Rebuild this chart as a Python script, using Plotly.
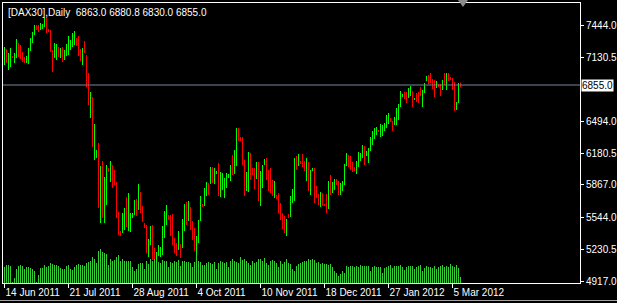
import plotly.graph_objects as go

# ---- data (DAX30 daily, 14 Jun 2011 .. Mar 2012) ----
highs = [7231,7211,7171,7221,7142,7171,7310,7270,7251,7181,
         7132,7142,7221,7320,7379,7448,7448,7448,7468,7458,
         7518,7527,7409,7399,7201,7270,7260,7231,7221,7231,
         7201,7260,7340,7300,7369,7389,7320,7340,7211,7221,
         7290,7152,6974,6786,6736,6469,6212,6281,6054,6103,
         5945,6064,6034,6103,6064,6014,5896,5599,5411,5589,
         5639,5748,5787,5589,5589,5718,5728,5876,5797,5658,
         5490,5471,5332,5461,5471,5243,5204,5273,5253,5461,
         5609,5668,5570,5570,5579,5342,5293,5411,5283,5530,
         5678,5698,5708,5649,5510,5441,5362,5520,5757,5678,
         5836,5896,5886,6044,6044,6034,6005,6084,5995,5985,
         5935,5985,5975,6064,6163,6212,6430,6430,6341,6341,
         6113,5995,6192,6183,6034,6034,6094,6094,6005,6064,
         6123,6133,6014,6034,5916,5906,5767,5787,5688,5589,
         5560,5530,5579,5757,5827,6133,6153,6173,6103,6173,
         6103,6133,6094,6014,6034,6034,5856,5777,5797,5787,
         5678,5777,5906,5965,5896,5926,5926,5906,5886,5906,
         6074,6183,6163,6153,6094,6044,6103,6192,6183,6262,
         6252,6202,6232,6341,6400,6430,6440,6410,6469,6459,
         6479,6558,6578,6529,6499,6539,6628,6667,6796,6766,
         6786,6786,6825,6845,6796,6726,6776,6786,6835,6806,
         6875,6944,6954,6974,6914,6904,6895,6865,6865,6904,
         6974,6974,6974,6934,6924,6885,6687,6875,6880.8]

lows = [7053,7073,7003,7033,7122,7073,7122,7132,7112,7082,
        7073,7073,7063,7191,7270,7349,7399,7379,7399,7409,
        7429,7369,7379,7181,6984,7122,7102,7132,7122,7082,
        7102,7142,7152,7201,7231,7251,7241,7142,7092,7053,
        7171,6835,6657,6529,6242,6113,6133,5639,5490,5540,
        5490,5668,5995,5896,5836,5866,5540,5372,5362,5392,
        5421,5451,5411,5401,5540,5570,5560,5619,5589,5500,
        5441,5194,5154,5273,5125,5125,5105,5164,5154,5174,
        5342,5471,5520,5362,5273,5194,5164,5223,5144,5243,
        5411,5471,5510,5421,5322,5213,5154,5293,5510,5649,
        5658,5757,5767,5876,5886,5876,5975,5757,5748,5817,
        5738,5836,5935,5906,5965,5975,6054,6301,6301,6064,
        5757,5807,5797,5916,5965,5827,5926,5708,5658,5836,
        6064,5916,5807,5787,5757,5738,5728,5589,5520,5431,
        5392,5362,5540,5550,5688,5708,6014,6054,6074,6044,
        6005,5906,5807,5767,6005,5688,5738,5668,5649,5658,
        5658,5589,5629,5767,5787,5817,5866,5767,5767,5807,
        5866,6054,6044,6014,5995,6005,5975,6044,6103,6133,
        6064,6153,6084,6202,6262,6321,6361,6390,6341,6351,
        6400,6430,6469,6489,6400,6459,6459,6509,6637,6736,
        6717,6677,6726,6746,6637,6707,6687,6677,6746,6637,
        6776,6895,6865,6875,6815,6736,6825,6835,6746,6806,
        6855,6806,6895,6904,6806,6598,6608,6677,6830]

# 1 = bullish (green), 0 = bearish (red)
up = [1,0,1,1,0,1,1,0,0,0, 0,1,1,1,1,1,0,0,1,1, 1,0,0,0,0,1,1,0,1,0,
      1,1,1,1,1,1,0,0,0,1, 0,0,0,1,0,1,1,0,1,0, 1,1,0,1,0,0,0,0,0,1,
      1,0,1,1,1,1,0,1,0,0, 0,0,1,1,0,0,1,1,1,1, 1,1,0,0,0,0,0,1,0,1,
      1,0,1,0,0,0,1,1,1,0, 1,1,0,1,0,1,1,0,1,1, 1,1,1,1,0,1,1,0,0,0,
      0,1,1,0,0,0,1,0,1,1, 1,0,0,0,0,1,0,0,0,0, 0,1,0,1,1,1,0,1,0,0,
      0,1,0,1,1,0,0,0,1,0, 0,0,1,0,1,1,0,0,1,1, 1,1,0,0,0,0,1,1,1,1,
      0,1,1,1,1,1,1,0,1,1, 1,1,1,0,0,1,1,1,1,1, 0,0,1,1,0,1,0,0,0,1,
      1,1,0,0,0,0,1,0,0,1, 0,1,0,0,0,0,1,1,0]

# tick volume (thousands)
volumes = [16,18,18,17,1,5,14,17,18,17, 14,16,16,15,14,12,1,8,15,15,
           18,16,17,20,19,18,18,17,15,14, 14,17,18,14,13,16,18,19,18,18,
           17,20,21,22,26,24,20,32,34,31, 30,29,18,24,22,23,26,28,22,24,
           22,22,22,22,16,12,14,19,20,20, 14,22,19,24,22,24,22,21,20,23,
           22,22,16,21,20,22,21,23,17,22, 22,21,21,20,16,21,30,22,21,18,
           18,20,21,20,19,21,14,20,22,21, 20,21,16,22,24,22,21,20,26,23,
           24,22,20,18,22,20,21,24,24,22, 25,20,18,22,23,22,20,16,22,19,
           21,24,20,19,14,12,17,19,20,21, 22,22,24,23,24,23,20,21,19,20,
           19,19,18,19,16,12,10,7,9,12, 10,17,16,17,17,16,17,16,18,17,
           17,17,17,12,16,17,16,16,16,10, 15,16,17,18,15,17,17,17,18,16,
           13,16,17,17,17,14,16,17,18,12, 15,17,16,16,15,17,14,16,17,18,
           16,17,16,19,17,16,18,15,6]

date_tick_bars = [0, 32, 64, 96, 128, 160, 192, 224]
date_tick_labels = ["14 Jun 2011", "21 Jul 2011", "28 Aug 2011", "4 Oct 2011",
                    "10 Nov 2011", "18 Dec 2011", "27 Jan 2012", "5 Mar 2012"]
price_ticks = [4917.0, 5230.5, 5544.0, 5867.0, 6180.5, 6494.0, 7130.5, 7444.0]
last_ohlc = [6863.0, 6880.8, 6830.0, 6855.0]
symbol = "[DAX30],Daily"

FONT = "Liberation Sans, Arial, sans-serif"
W, H = 617, 303
ML, MR, MT, MB = 3, 37, 3, 20
PW, PH = W - ML - MR, H - MT - MB

x = list(range(len(highs)))
price_colors = ["#00ff00" if u else "#ff0000" for u in up]

fig = go.Figure()
fig.add_trace(go.Bar(
    x=x, y=volumes, yaxis="y2", width=0.4,
    marker=dict(color="#32cd32", line=dict(width=0)),
    hoverinfo="skip"))
fig.add_trace(go.Bar(
    x=x, y=[h - l for h, l in zip(highs, lows)], base=lows, width=0.4,
    marker=dict(color=price_colors, line=dict(width=0)),
    hoverinfo="skip"))

last_close = last_ohlc[3]

fig.update_layout(
    width=W, height=H,
    margin=dict(l=ML, r=MR, t=MT, b=MB, pad=0, autoexpand=False),
    paper_bgcolor="#000000", plot_bgcolor="#000000",
    showlegend=False, barmode="overlay",
    font=dict(family=FONT, size=10, color="#ffffff"),
    xaxis=dict(range=[-0.75, 287.75], tickvals=date_tick_bars, ticktext=date_tick_labels,
               ticks="outside", ticklen=4, tickcolor="#ffffff", tickwidth=1,
               ticklabelposition="outside right", tickangle=0, automargin=False,
               showline=True, linecolor="#ffffff", linewidth=1, mirror=True,
               showgrid=False, zeroline=False,
               tickfont=dict(family=FONT, size=10, color="#ffffff")),
    yaxis=dict(side="right", range=[4897.2, 7665.9], automargin=False,
               tickvals=price_ticks, ticktext=[f"{v:.1f}" for v in price_ticks],
               ticks="outside", ticklen=3, tickcolor="#ffffff", tickwidth=1,
               showline=True, linecolor="#ffffff", linewidth=1, mirror=True,
               showgrid=False, zeroline=False,
               tickfont=dict(family=FONT, size=10, color="#ffffff")),
    yaxis2=dict(overlaying="y", range=[0, PH], visible=False),
)

# header text
fig.add_annotation(
    xref="paper", yref="paper", x=(6 - ML) / PW, y=(MT + PH - 12) / PH,
    xanchor="left", yanchor="middle", showarrow=False,
    text=symbol + "\u00a0\u00a0" + " ".join(f"{v:.1f}" for v in last_ohlc),
    font=dict(family=FONT, size=10, color="#ffffff"))

# bid line and its label
fig.add_shape(type="line", xref="paper", yref="y", x0=0, x1=1,
              y0=last_close, y1=last_close,
              line=dict(color="#778899", width=1))
fig.add_annotation(
    xref="paper", yref="y", x=1, y=last_close, xanchor="left", yanchor="middle",
    xshift=1, showarrow=False, text=f"{last_close:.1f}",
    bgcolor="#ffffff", borderpad=0,
    font=dict(family=FONT, size=10, color="#000000"))

# chart-shift marker (small triangle at top)
tx0, tx1, txm = (458 - ML) / PW, (468 - ML) / PW, (463 - ML) / PW
ty0, ty1 = (MT + PH - 0) / PH, (MT + PH - 7) / PH
fig.add_shape(type="path", xref="paper", yref="paper",
              path=f"M {tx0},{ty0} L {tx1},{ty0} L {txm},{ty1} Z",
              fillcolor="#8c8c8c", line=dict(width=0))

# bottom window edge
fig.add_shape(type="line", xref="paper", yref="paper",
              x0=(0 - ML) / PW, x1=(W - ML) / PW,
              y0=(MT + PH - 300.5) / PH, y1=(MT + PH - 300.5) / PH,
              line=dict(color="#a0a0a0", width=1))

fig.write_html("out.html", config={"displayModeBar": False})
